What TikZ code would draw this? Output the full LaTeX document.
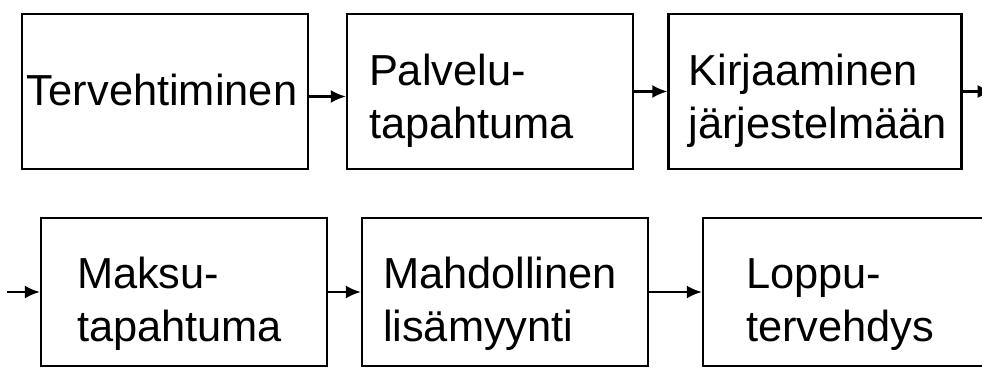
\documentclass[tikz,border=0pt]{standalone}
\usepackage{fontspec}
\setmainfont{Liberation Sans}
\usetikzlibrary{positioning,arrows.meta}

\begin{document}
\begin{tikzpicture}[x=1pt,y=-1pt,
    every node/.style={on grid},
    vaihe/.style={draw,line width=2.4pt,minimum width=286pt,minimum height=155pt,inner sep=0pt},
    teksti/.style={anchor=base west,align=left,inner sep=0pt,font=\fontsize{43.4pt}{53pt}\selectfont},
    nuoli/.style={-{Latex[length=15pt,width=13pt]},line width=2.2pt}]
    \useasboundingbox (0,0) rectangle (982,367);
    \clip (0,0) rectangle (982,367);
    % upper row
    \node[vaihe] (T) at (165,91.5) {};
    \node[vaihe,right of=T,node distance=325pt] (P) {};
    \node[vaihe,right of=P,node distance=325pt,minimum width=293pt] (K) {};
    % lower row
    \node[vaihe,minimum height=148pt] (M) at (184,292) {};
    \node[vaihe,minimum height=148pt,right of=M,node distance=321pt] (Ma) {};
    \node[vaihe,minimum height=148pt,right of=Ma,node distance=341pt] (L) {};
    % texts (base = baseline of the last line)
    \node[teksti] (tT) at ([shift={(6,93)}]T.north west) {Tervehtiminen};
    \node[teksti] (tP) at ([shift={(23,126)}]P.north west) {Palvelu-\\tapahtuma};
    \node[teksti] (tK) at ([shift={(21,126)}]K.north west) {Kirjaaminen\\järjestelmään};
    \node[teksti] (tM) at ([shift={(37,125)}]M.north west) {Maksu-\\tapahtuma};
    \node[teksti] (tMa) at ([shift={(22,125)}]Ma.north west) {Mahdollinen\\lisämyynti};
    \node[teksti] (tL) at ([shift={(44,125)}]L.north west) {Loppu-\\tervehdys};
    % arrows
    \coordinate[left=33pt of M.west] (sisaan);
    \coordinate[right=30pt of K.east] (ulos);
    \draw[nuoli] ([yshift=-5pt]T.east) -- ([yshift=-5pt]P.west);
    \draw[nuoli] (P.east) -- (K.west);
    \draw[nuoli] (K.east) -- (ulos);
    \draw[nuoli] (sisaan) -- (M.west);
    \draw[nuoli] (M.east) -- (Ma.west);
    \draw[nuoli] (Ma.east) -- (L.west);
\end{tikzpicture}
\end{document}
